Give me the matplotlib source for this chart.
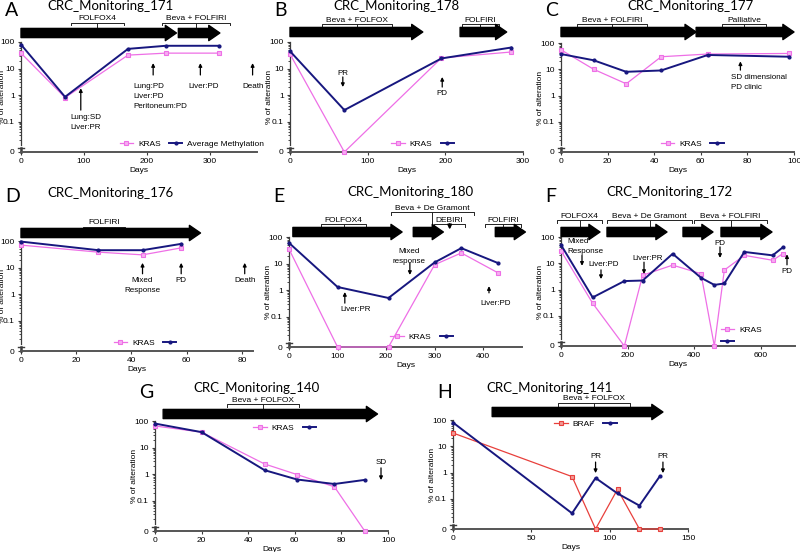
import numpy as np
import matplotlib
matplotlib.use('Agg')
import matplotlib.pyplot as plt
from matplotlib import transforms

plt.rcParams['font.family'] = ['Liberation Sans', 'DejaVu Sans']

PINK = '#ee6fe6'
PINK_FACE = '#f6aef1'
NAVY = '#17177f'
RED = '#e8403c'
AXC = '#3c3c3c'
ZERO = -2.15   # where the "0" sits on the broken log axis

# ---------------- data (days, % of alteration) ----------------
A_days = [0, 70, 170, 230, 315]
A_kras = [38, 0.8, 32, 38, 38]
A_meth = [80, 0.85, 55, 72, 72]

B_days = [0, 70, 195, 285]
B_kras = [35, 0, 25, 42]
B_meth = [45, 0.27, 24, 62]

C_days = [0, 14, 28, 43, 63, 98]
C_kras = [55, 10, 2.8, 30, 38, 40]
C_meth = [38, 22, 8, 9, 35, 30]

D_days = [0, 28, 44, 58]
D_kras = [70, 38, 30, 55]
D_meth = [95, 45, 45, 78]

E_days = [0, 100, 205, 300, 355, 430]
E_kras = [35, 0, 0, 9, 25, 4.5]
E_meth = [60, 1.3, 0.5, 11, 38, 10.5]

F_days = [0, 95, 190, 245, 335, 420, 460, 490, 550, 635, 665]
F_kras = [30, 0.3, 0, 3.5, 8.5, 4, 0, 5.5, 20, 13, 23]
F_meth = [50, 0.5, 2.1, 2.2, 23, 2.8, 1.5, 1.7, 27, 20, 40]

G_days = [0, 20, 47, 61, 77, 90]
G_kras = [65, 38, 2.4, 0.95, 0.33, 0]
G_meth = [80, 38, 1.4, 0.62, 0.42, 0.6]

H_days = [0, 76, 91, 105, 119, 132]
H_braf = [32, 0.7, 0, 0.23, 0, 0]
H_meth = [80, 0.028, 0.62, 0.16, 0.055, 0.72]

# treatment arrows (start day, end day)
A_treat = [(0, 247), (250, 316)]
B_treat = [(0, 171), (219, 279)]
C_treat = [(0, 58), (58, 100)]
D_treat = [(0, 65)]
E_treat = [(8, 233), (256, 318), (425, 487)]
F_treat = [(0, 117), (138, 318), (366, 456), (480, 633)]
G_treat = [(3.5, 95.5)]
H_treat = [(25, 134)]

# regimen brackets (start, end, label, pixels above plot, arrow from centre)
A_brk = [(79, 163, 'FOLFOX4', 19, False), (224, 332, 'Beva + FOLFIRI', 19, False)]
B_brk = [(41, 131, 'Beva + FOLFOX', 18, False), (221, 269, 'FOLFIRI', 18, False)]
C_brk = [(7, 37, 'Beva + FOLFIRI', 19, False), (69, 88, 'Palliative', 19, False)]
D_brk = [(22.5, 37.5, 'FOLFIRI', 14, False)]
E_brk = [(66, 159, 'FOLFOX4', 13, False), (210, 381, 'Beva + De Gramont', 25, False),
         (299, 363, 'DEBIRI', 13, True), (404, 478, 'FOLFIRI', 13, False)]
F_brk = [(-12, 123, 'FOLFOX4', 17, False), (138, 393, 'Beva + De Gramont', 17, False),
         (399, 618, 'Beva + FOLFIRI', 17, False)]
G_brk = [(31, 62, 'Beva + FOLFOX', 17, False)]
H_brk = [(67, 113, 'Beva + FOLFOX', 17, False)]

# clinical notes: (day, arrow tail %, arrow head %, text, text day, text %, ha, va)
A_notes = [(95, 0.27, 1.8, 'Lung:SD\nLiver:PR', 78, 0.19, 'left', 'top'),
           (210, 5.7, 16, 'Lung:PD\nLiver:PD\nPeritoneum:PD', 178, 2.8, 'left', 'top'),
           (285, 5.7, 16, 'Liver:PD', 290, 2.8, 'center', 'top'),
           (368, 5.7, 16, 'Death', 368, 2.8, 'center', 'top')]
B_notes = [(68, 4.8, 2.0, 'PR', 68, 4.8, 'center', 'bottom'),
           (196, 2.0, 4.8, 'PD', 196, 1.6, 'center', 'top')]
C_notes = [(77, 9.3, 20, 'SD dimensional\nPD clinic', 73, 6.6, 'left', 'top')]
D_notes = [(44, 5.8, 15, 'Mixed\nResponse', 44, 4.4, 'center', 'top'),
           (58, 5.8, 15, 'PD', 58, 4.4, 'center', 'top'),
           (81, 5.8, 15, 'Death', 81, 4.4, 'center', 'top')]
E_notes = [(115, 0.32, 0.84, 'Liver:PR', 138, 0.25, 'center', 'top'),
           (249, 10.5, 3.7, 'Mixed\nresponse', 247, 38, 'center', 'top'),
           (412, 0.78, 1.4, 'Liver:PD', 425, 0.42, 'center', 'top')]
F_notes = [(63, 20, 8, 'Mixed\nResponse', 18, 91, 'left', 'top'),
           (120, 5.6, 2.5, 'Liver:PD', 81, 12, 'left', 'top'),
           (249, 11, 3.9, 'Liver:PR', 213, 20, 'left', 'top'),
           (477, 42, 16, 'PD', 477, 78, 'center', 'top'),
           (678, 8.7, 22, 'PD', 678, 6.6, 'center', 'top')]
G_notes = [(97, 1.7, 0.59, 'SD', 97, 2.0, 'center', 'bottom')]
H_notes = [(91, 2.5, 0.95, 'PR', 91, 3.0, 'center', 'bottom'),
           (134, 2.5, 0.95, 'PR', 134, 3.0, 'center', 'bottom')]


def lg(v):
    v = np.asarray(v, float)
    out = np.full(v.shape, ZERO)
    out[v > 0] = np.log10(v[v > 0])
    return out


fig = plt.figure(figsize=(8, 5.52), dpi=100)


def panel(box, letter, title, title_xy, days, mut, meth, mut_name, mut_col,
          xlim, xticks, treat, brk, notes, leg_xy, leg_ncol=2, arrow_px=9):
    l, t, r, b = box
    h = b - t
    w = r - l
    ax = fig.add_axes([l / 800, 1 - b / 552, w / 800, h / 552])
    ax.set_xlim(*xlim)
    ax.set_ylim(ZERO, 2)
    ax.set_xticks(xticks)
    ax.set_yticks([ZERO, -1, 0, 1, 2])
    ax.set_yticklabels(['0', '0.1', '1', '10', '100'])
    minor = [np.log10(k * 10.0 ** d) for d in range(-2, 2) for k in range(2, 10)]
    ax.set_yticks([m for m in minor if m > ZERO + 0.25], minor=True)
    for s in ['top', 'right']:
        ax.spines[s].set_visible(False)
    ax.spines['left'].set_bounds(ZERO + 0.25, 2)
    ax.spines['left'].set_color(AXC)
    ax.spines['left'].set_linewidth(0.9)
    ax.spines['bottom'].set_color('#555555')
    ax.spines['bottom'].set_linewidth(1.4)
    ax.tick_params(labelsize=6, length=2.5, width=0.8, color=AXC, pad=2)
    ax.tick_params(which='minor', length=1.5, width=0.5)
    ax.set_xlabel('Days', fontsize=6, labelpad=1)
    ax.set_ylabel('% of alteration', fontsize=6)
    ax.yaxis.set_label_coords((max(l - 17, 6) - l) / w, 0.5)

    bl = transforms.blended_transform_factory(ax.transAxes, ax.transData)
    ax.plot([0, 0], [ZERO, ZERO + 0.14], color=AXC, lw=1.8, transform=bl, clip_on=False)
    ax.plot([-0.012, 0.012], [ZERO + 0.14, ZERO + 0.14], color=AXC, lw=1.0,
            transform=bl, clip_on=False)

    l1, = ax.plot(days, lg(mut), color=mut_col, lw=0.9, marker='s', ms=3.5,
                  mfc=PINK_FACE if mut_col == PINK else '#f29a96', mec=mut_col,
                  mew=0.8, clip_on=False, zorder=3)
    l2, = ax.plot(days, lg(meth), color=NAVY, lw=1.4, marker='o', ms=2,
                  clip_on=False, zorder=4)
    labels = [mut_name, 'Average Methylation' if letter == 'A' else '']
    ax.legend([l1, l2], labels, loc='center', bbox_to_anchor=leg_xy, ncol=leg_ncol,
              frameon=False, fontsize=6, handlelength=1.6, handletextpad=0.6,
              columnspacing=1.0, borderpad=0, labelspacing=0.5)

    # treatment arrows and regimen brackets above the plot
    tr = transforms.blended_transform_factory(ax.transData, ax.transAxes)
    ya = 1 + arrow_px / h
    for s, e in treat:
        ax.annotate('', xy=(e, ya), xytext=(s, ya), xycoords=tr, textcoords=tr,
                    annotation_clip=False,
                    arrowprops=dict(arrowstyle='simple,head_length=0.8,head_width=1.1,tail_width=0.66',
                                    fc='black', ec='black', mutation_scale=10,
                                    shrinkA=0, shrinkB=0))
    for s, e, lab, px, arr in brk:
        yb = 1 + px / h
        d = 2.5 / h
        ax.plot([s, s, e, e], [yb - d, yb, yb, yb - d], color='#222222', lw=0.7,
                transform=tr, clip_on=False)
        c = (s + e) / 2
        ytop = ya + 4.5 / h
        if arr:
            ax.annotate('', xy=(c, ytop - 2 / h), xytext=(c, yb), xycoords=tr, textcoords=tr,
                        annotation_clip=False,
                        arrowprops=dict(arrowstyle='-|>', lw=1.2, color='black',
                                        mutation_scale=6, shrinkA=0, shrinkB=0))
        else:
            ax.plot([c, c], [yb, ytop], color='#222222', lw=0.7, transform=tr, clip_on=False)
        ax.text(c, yb + 0.5 / h, lab, fontsize=6, ha='center', va='bottom',
                transform=tr)

    for x, y0, y1, txt, tx, ty, ha, va in notes:
        ax.annotate('', xy=(x, lg(y1)), xytext=(x, lg(y0)), annotation_clip=False,
                    arrowprops=dict(arrowstyle='-|>', lw=0.9, color='black',
                                    mutation_scale=5, shrinkA=0, shrinkB=0))
        ax.text(tx, lg(ty), txt, fontsize=5.8, ha=ha, va=va, linespacing=1.6)

    lx, ly = title_xy
    fig.text(lx / 800, 1 - ly / 552, title, fontsize=9.5, family='Lato',
             ha='center', va='center')
    fig.text((l - 16) / 800, 1 - (ly + 4) / 552, letter, fontsize=14, family='Lato',
             ha='left', va='center')
    return ax


panel((21, 42, 257, 152), 'A', 'CRC_Monitoring_171', (110, 6), A_days, A_kras, A_meth,
      'KRAS', PINK, (0, 375), [0, 100, 200, 300], A_treat, A_brk, A_notes, (0.725, 0.073))
panel((290, 42, 523, 152), 'B', 'CRC_Monitoring_178', (396, 6), B_days, B_kras, B_meth,
      'KRAS', PINK, (0, 300), [0, 100, 200, 300], B_treat, B_brk, B_notes, (0.58, 0.073),
      arrow_px=10)
panel((561, 43, 794, 152), 'C', 'CRC_Monitoring_177', (690, 6), C_days, C_kras, C_meth,
      'KRAS', PINK, (0, 100), [0, 20, 40, 60, 80, 100], C_treat, C_brk, C_notes,
      (0.575, 0.073), arrow_px=11)
panel((21, 241, 253, 351), 'D', 'CRC_Monitoring_176', (110, 193), D_days, D_kras, D_meth,
      'KRAS', PINK, (0, 84), [0, 20, 40, 60, 80], D_treat, D_brk, D_notes, (0.545, 0.073),
      arrow_px=8)
panel((289, 237, 522, 347), 'E', 'CRC_Monitoring_180', (410, 192), E_days, E_kras, E_meth,
      'KRAS', PINK, (0, 480), [0, 100, 200, 300, 400], E_treat, E_brk, E_notes,
      (0.58, 0.09), arrow_px=5)
panel((561, 237, 795, 346), 'F', 'CRC_Monitoring_172', (669, 192), F_days, F_kras, F_meth,
      'KRAS', PINK, (0, 702), [0, 200, 400, 600], F_treat, F_brk, F_notes, (0.77, 0.09),
      leg_ncol=1, arrow_px=5)
panel((155, 421, 388, 531), 'G', 'CRC_Monitoring_140', (257, 388), G_days, G_kras, G_meth,
      'KRAS', PINK, (0, 100), [0, 20, 40, 60, 80, 100], G_treat, G_brk, G_notes,
      (0.567, 0.94), arrow_px=7)
panel((453, 420, 688, 529), 'H', 'CRC_Monitoring_141', (550, 388), H_days, H_braf, H_meth,
      'BRAF', RED, (0, 150), [0, 50, 100, 150], H_treat, H_brk, H_notes, (0.574, 0.96),
      arrow_px=8)

fig.savefig('out.png', dpi=100)
